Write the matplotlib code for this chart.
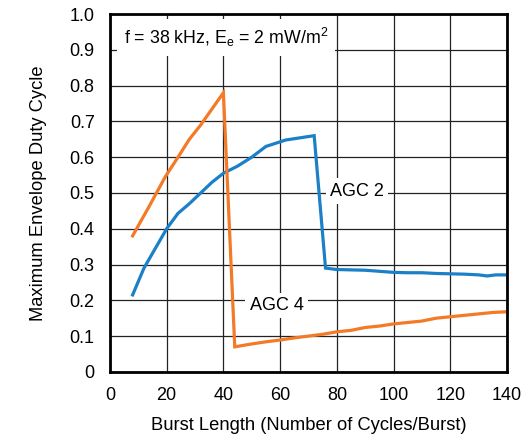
import matplotlib
matplotlib.use("Agg")
import matplotlib.pyplot as plt

plt.rcParams['font.family'] = ['Liberation Sans', 'DejaVu Sans']

agc4_x = [8, 14, 19.5, 24, 28, 32, 40, 44, 50, 55, 60, 65, 70, 75, 80, 85, 90, 95, 100, 105, 110, 115, 120, 125, 130, 135, 140]
agc4_y = [0.38, 0.465, 0.545, 0.60, 0.65, 0.69, 0.78, 0.07, 0.078, 0.084, 0.089, 0.095, 0.10, 0.105, 0.112, 0.116, 0.124, 0.128, 0.134, 0.138, 0.142, 0.150, 0.154, 0.158, 0.162, 0.166, 0.168]

agc2_x = [8, 12, 16, 20, 24, 28, 32, 36, 40, 45, 50, 55, 62, 72, 76, 80, 85, 90, 95, 100, 105, 110, 115, 120, 125, 130, 133, 136, 140]
agc2_y = [0.215, 0.29, 0.345, 0.40, 0.443, 0.47, 0.50, 0.53, 0.555, 0.575, 0.60, 0.63, 0.648, 0.66, 0.29, 0.286, 0.285, 0.284, 0.281, 0.278, 0.277, 0.277, 0.275, 0.274, 0.273, 0.271, 0.268, 0.271, 0.271]

x_ticks = [0, 20, 40, 60, 80, 100, 120, 140]
y_ticks = [0, 0.1, 0.2, 0.3, 0.4, 0.5, 0.6, 0.7, 0.8, 0.9, 1.0]
y_labels = ['0', '0.1', '0.2', '0.3', '0.4', '0.5', '0.6', '0.7', '0.8', '0.9', '1.0']

fig = plt.figure(figsize=(5.26, 4.38), dpi=100)
ax = fig.add_axes([0.209, 0.151, 0.755, 0.817])

ax.plot(agc2_x, agc2_y, color='#1b80c8', lw=2.3, zorder=3, solid_joinstyle='miter')
ax.plot(agc4_x, agc4_y, color='#f37a26', lw=2.3, zorder=3, solid_joinstyle='miter')

ax.set_xlim(0, 140)
ax.set_ylim(0, 1.0)
ax.set_xticks(x_ticks)
ax.set_yticks(y_ticks)
ax.set_yticklabels(y_labels)
ax.tick_params(length=0, labelsize=13, pad=11)
ax.grid(True, color='#222222', lw=0.9)
ax.set_axisbelow(True)
for s in ax.spines.values():
    s.set_linewidth(2.0)
    s.set_zorder(4)

ax.set_xlabel('Burst Length (Number of Cycles/Burst)', fontsize=13.2, labelpad=9)
ax.set_ylabel('Maximum Envelope Duty Cycle', fontsize=13.2, labelpad=16)

box = dict(facecolor='white', edgecolor='none', pad=3)
ax.text(41, 0.935, 'f = 38 kHz, E$_\\mathregular{e}$ = 2 mW/m$^\\mathregular{2}$', fontsize=12.8,
        ha='center', va='center', bbox=dict(facecolor='white', edgecolor='none', pad=5), zorder=2)
ax.text(87, 0.505, 'AGC 2', fontsize=13, ha='center', va='center', bbox=box, zorder=2)
ax.text(58.7, 0.186, 'AGC 4', fontsize=13, ha='center', va='center', bbox=box, zorder=2)

fig.savefig('out.png', dpi=100)
